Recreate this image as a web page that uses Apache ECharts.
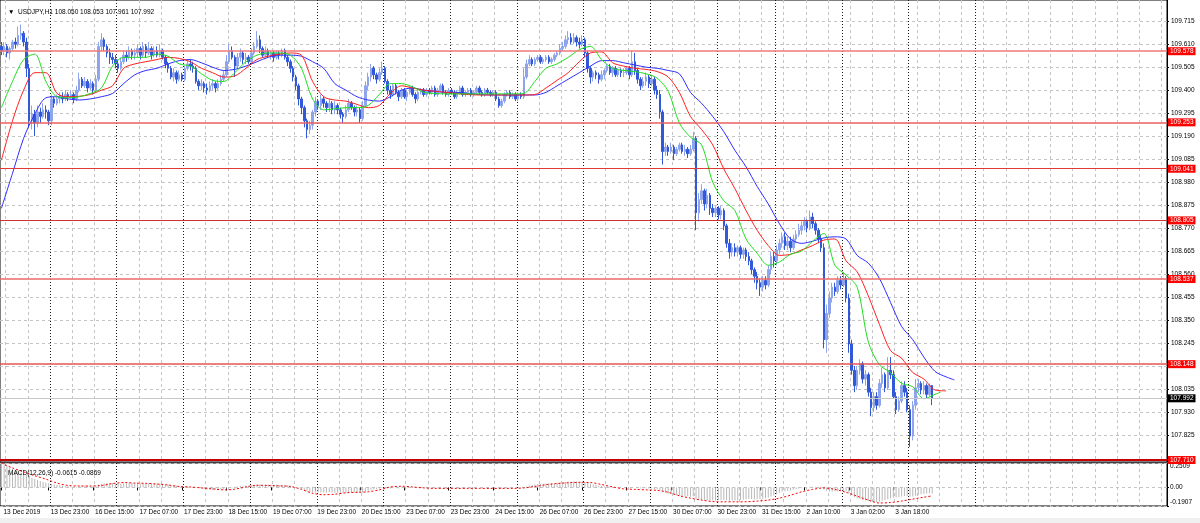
<!DOCTYPE html>
<html><head><meta charset="utf-8">
<script src="https://cdn.jsdelivr.net/npm/echarts@6/dist/echarts.min.js"></script>
<style>html,body{margin:0;padding:0;background:#f0f0f0;}#c{width:1200px;height:518px;background:#fff;}</style>
</head><body><div id="c"></div>
<script>
const symbol = 'USDJPY,H1';
const firstOpen = 109.60;
const closes = [
109.58,109.60,109.57,109.59,109.62,109.61,109.65,109.66,
109.62,109.50,109.26,109.29,109.25,109.30,109.28,109.31,
109.30,109.26,109.36,109.34,109.36,109.37,109.36,109.38,
109.37,109.38,109.36,109.40,109.45,109.42,109.44,109.41,
109.43,109.40,109.45,109.60,109.63,109.60,109.57,109.55,
109.54,109.52,109.50,109.53,109.56,109.55,109.58,109.56,
109.57,109.59,109.56,109.60,109.57,109.59,109.56,109.58,
109.56,109.58,109.55,109.52,109.50,109.46,109.48,109.45,
109.47,109.45,109.50,109.52,109.51,109.50,109.44,109.42,
109.43,109.41,109.40,109.42,109.43,109.41,109.43,109.45,
109.47,109.53,109.58,109.55,109.51,109.55,109.57,109.54,
109.55,109.53,109.57,109.60,109.63,109.59,109.56,109.58,
109.56,109.57,109.55,109.57,109.56,109.58,109.55,109.53,
109.50,109.46,109.42,109.36,109.32,109.26,109.22,109.24,
109.30,109.35,109.33,109.36,109.34,109.32,109.34,109.31,
109.33,109.31,109.29,109.28,109.31,109.34,109.32,109.30,
109.31,109.27,109.33,109.42,109.46,109.50,109.47,109.45,
109.48,109.50,109.44,109.40,109.38,109.42,109.39,109.37,
109.40,109.37,109.39,109.41,109.38,109.36,109.39,109.40,
109.38,109.40,109.39,109.41,109.38,109.40,109.42,109.39,
109.38,109.40,109.39,109.37,109.39,109.41,109.38,109.39,
109.40,109.38,109.39,109.41,109.39,109.38,109.40,109.39,
109.38,109.39,109.36,109.33,109.35,109.38,109.39,109.37,
109.38,109.36,109.38,109.37,109.46,109.52,109.54,109.52,
109.54,109.55,109.53,109.54,109.55,109.53,109.54,109.56,
109.57,109.59,109.60,109.63,109.64,109.62,109.64,109.62,
109.61,109.63,109.57,109.50,109.46,109.48,109.47,109.45,
109.47,109.49,109.51,109.48,109.50,109.47,109.49,109.48,
109.48,109.50,109.47,109.53,109.49,109.45,109.42,109.44,
109.46,109.43,109.45,109.40,109.38,109.30,109.12,109.14,
109.12,109.14,109.11,109.13,109.15,109.12,109.13,109.11,
109.13,109.18,108.84,108.90,108.94,108.88,108.92,108.86,
108.84,108.86,108.83,108.85,108.78,108.70,108.66,108.68,
108.66,108.68,108.65,108.67,108.64,108.62,108.58,108.55,
108.52,108.50,108.53,108.51,108.58,108.64,108.62,108.67,
108.70,108.73,108.69,108.71,108.68,108.72,108.74,108.76,
108.78,108.80,108.77,108.82,108.79,108.76,108.72,108.68,
108.26,108.38,108.45,108.50,108.48,108.53,108.51,108.54,
108.45,108.24,108.12,108.05,108.12,108.15,108.08,108.10,
108.02,107.95,108.00,107.96,108.06,108.10,108.04,108.12,
108.10,108.00,107.94,107.98,108.05,108.02,107.94,107.82,
107.96,108.04,108.06,108.03,108.05,108.01,108.05,107.992];
const highs = [
109.62,109.62,109.61,109.60,109.63,109.64,109.69,109.70,
109.67,109.64,109.52,109.33,109.31,109.33,109.32,109.34,
109.33,109.31,109.38,109.37,109.38,109.39,109.39,109.40,
109.39,109.40,109.39,109.42,109.48,109.46,109.46,109.45,
109.45,109.44,109.47,109.62,109.66,109.64,109.61,109.59,
109.57,109.56,109.54,109.55,109.58,109.58,109.60,109.59,
109.59,109.61,109.60,109.62,109.61,109.62,109.60,109.60,
109.60,109.61,109.59,109.56,109.53,109.51,109.50,109.49,
109.49,109.48,109.51,109.54,109.54,109.53,109.51,109.45,
109.45,109.44,109.43,109.44,109.45,109.44,109.45,109.47,
109.49,109.56,109.61,109.60,109.56,109.57,109.59,109.58,
109.57,109.56,109.59,109.62,109.67,109.65,109.60,109.60,
109.59,109.58,109.58,109.58,109.58,109.59,109.59,109.56,
109.54,109.51,109.47,109.43,109.37,109.33,109.27,109.26,
109.31,109.37,109.36,109.38,109.37,109.35,109.36,109.35,
109.35,109.34,109.32,109.30,109.33,109.36,109.35,109.33,
109.33,109.32,109.35,109.44,109.48,109.52,109.51,109.48,
109.50,109.53,109.51,109.45,109.42,109.43,109.43,109.40,
109.41,109.41,109.40,109.42,109.42,109.39,109.40,109.41,
109.41,109.41,109.41,109.42,109.42,109.41,109.43,109.43,
109.40,109.41,109.41,109.40,109.40,109.42,109.42,109.40,
109.41,109.41,109.40,109.42,109.42,109.40,109.41,109.41,
109.40,109.40,109.40,109.37,109.36,109.39,109.40,109.40,
109.39,109.39,109.39,109.39,109.50,109.54,109.56,109.55,
109.55,109.56,109.56,109.55,109.56,109.56,109.55,109.57,
109.58,109.61,109.62,109.65,109.67,109.66,109.66,109.65,
109.64,109.65,109.64,109.58,109.51,109.49,109.49,109.48,
109.49,109.50,109.52,109.52,109.51,109.51,109.50,109.50,
109.50,109.51,109.51,109.58,109.57,109.50,109.46,109.46,
109.48,109.47,109.47,109.46,109.42,109.40,109.31,109.16,
109.15,109.16,109.15,109.14,109.16,109.16,109.15,109.14,
109.15,109.21,109.19,108.93,108.97,108.95,108.95,108.93,
108.88,108.87,108.87,108.87,108.86,108.79,108.72,108.70,
108.70,108.69,108.69,108.68,108.68,108.66,108.63,108.59,
108.57,108.54,108.55,108.55,108.60,108.66,108.66,108.69,
108.72,108.75,108.75,108.73,108.73,108.74,108.76,108.79,
108.80,108.82,108.81,108.85,108.84,108.80,108.77,108.74,
108.70,108.42,108.48,108.52,108.52,108.55,108.55,108.57,
108.55,108.47,108.26,108.14,108.14,108.17,108.16,108.12,
108.11,108.04,108.02,108.02,108.08,108.13,108.11,108.18,
108.18,108.12,108.02,108.00,108.07,108.07,108.04,107.96,
107.98,108.08,108.08,108.07,108.07,108.06,108.06,108.053];
const lows = [
109.56,109.56,109.55,109.54,109.58,109.59,109.60,109.63,
109.60,109.46,109.23,109.22,109.19,109.23,109.25,109.27,
109.27,109.24,109.24,109.32,109.33,109.34,109.34,109.35,
109.35,109.36,109.34,109.35,109.39,109.41,109.41,109.39,
109.40,109.38,109.39,109.44,109.58,109.58,109.55,109.52,
109.52,109.50,109.48,109.49,109.52,109.53,109.54,109.54,
109.54,109.55,109.54,109.55,109.55,109.56,109.54,109.55,
109.55,109.55,109.54,109.50,109.48,109.45,109.44,109.43,
109.44,109.44,109.44,109.49,109.49,109.48,109.43,109.40,
109.40,109.39,109.38,109.39,109.40,109.39,109.40,109.42,
109.44,109.46,109.52,109.54,109.46,109.50,109.53,109.52,
109.52,109.52,109.52,109.56,109.59,109.57,109.55,109.55,
109.55,109.54,109.53,109.54,109.54,109.55,109.54,109.51,
109.48,109.44,109.40,109.33,109.29,109.23,109.18,109.20,
109.22,109.28,109.31,109.31,109.32,109.30,109.30,109.29,
109.29,109.29,109.27,109.25,109.27,109.30,109.31,109.28,
109.28,109.25,109.26,109.32,109.40,109.44,109.45,109.43,
109.44,109.47,109.43,109.38,109.36,109.37,109.38,109.35,
109.36,109.36,109.35,109.38,109.37,109.34,109.35,109.38,
109.37,109.37,109.38,109.38,109.37,109.37,109.39,109.38,
109.37,109.37,109.38,109.36,109.36,109.38,109.37,109.37,
109.38,109.37,109.37,109.38,109.38,109.37,109.37,109.38,
109.37,109.37,109.35,109.32,109.32,109.34,109.37,109.36,
109.36,109.35,109.35,109.36,109.36,109.45,109.51,109.51,
109.51,109.53,109.52,109.52,109.53,109.52,109.52,109.53,
109.55,109.56,109.58,109.59,109.61,109.61,109.61,109.60,
109.59,109.60,109.55,109.48,109.43,109.44,109.45,109.43,
109.44,109.45,109.48,109.47,109.46,109.46,109.46,109.46,
109.46,109.47,109.45,109.46,109.47,109.43,109.40,109.41,
109.42,109.41,109.42,109.38,109.36,109.27,109.06,109.10,
109.10,109.11,109.08,109.10,109.12,109.11,109.10,109.09,
109.10,109.12,108.76,108.80,108.88,108.85,108.86,108.83,
108.82,108.82,108.81,108.81,108.76,108.68,108.63,108.64,
108.64,108.64,108.63,108.63,108.62,108.60,108.56,108.52,
108.49,108.46,108.48,108.49,108.50,108.56,108.59,108.60,
108.65,108.68,108.67,108.67,108.66,108.67,108.70,108.73,
108.74,108.76,108.75,108.76,108.77,108.74,108.70,108.66,
108.22,108.20,108.36,108.43,108.46,108.47,108.49,108.50,
108.43,108.20,108.10,108.02,108.03,108.10,108.06,108.05,
108.00,107.91,107.93,107.94,107.95,108.04,108.02,108.03,
108.08,107.99,107.92,107.93,107.97,108.00,107.93,107.77,
107.80,107.94,108.02,108.01,108.01,107.99,108.00,107.961];

// Alligator lines read every 4 bars, plus the shifted end point
const maStep = 4;
const jaw = [108.86,109.02,109.18,109.29,109.365,109.37,109.36,109.355,109.36,109.37,109.385,109.43,109.47,109.49,109.50,109.52,109.535,109.54,109.525,109.505,109.49,109.495,109.51,109.53,109.55,109.56,109.56,109.555,109.53,109.50,109.43,109.40,109.37,109.355,109.35,109.37,109.40,109.41,109.40,109.395,109.39,109.39,109.385,109.38,109.378,109.378,109.378,109.378,109.378,109.39,109.42,109.45,109.48,109.51,109.535,109.535,109.525,109.515,109.505,109.50,109.49,109.475,109.39,109.34,109.28,109.21,109.125,109.05,108.96,108.88,108.79,108.72,108.70,108.71,108.725,108.73,108.72,108.645,108.61,108.54,108.43,108.32,108.26,108.18,108.115,108.09];
const teeth = [109.08,109.26,109.40,109.48,109.48,109.385,109.37,109.372,109.38,109.40,109.42,109.50,109.52,109.53,109.54,109.55,109.545,109.53,109.50,109.48,109.46,109.465,109.50,109.54,109.555,109.565,109.57,109.56,109.44,109.37,109.355,109.35,109.335,109.32,109.33,109.385,109.42,109.41,109.40,109.395,109.39,109.385,109.38,109.378,109.378,109.378,109.378,109.378,109.38,109.41,109.445,109.48,109.53,109.57,109.575,109.525,109.51,109.50,109.495,109.485,109.46,109.39,109.28,109.22,109.15,109.04,108.95,108.85,108.76,108.69,108.645,108.65,108.67,108.69,108.715,108.72,108.62,108.57,108.46,108.33,108.21,108.175,108.11,108.08,108.03];
const lips = [109.32,109.44,109.54,109.565,109.44,109.37,109.365,109.37,109.385,109.41,109.51,109.55,109.55,109.55,109.565,109.555,109.52,109.51,109.475,109.445,109.44,109.48,109.53,109.56,109.57,109.57,109.56,109.50,109.36,109.31,109.315,109.32,109.32,109.33,109.38,109.43,109.43,109.415,109.39,109.385,109.383,109.383,109.383,109.383,109.383,109.383,109.383,109.385,109.44,109.50,109.52,109.55,109.585,109.60,109.54,109.50,109.49,109.485,109.475,109.455,109.395,109.25,109.185,109.15,108.98,108.895,108.85,108.72,108.655,108.60,108.615,108.65,108.665,108.71,108.745,108.60,108.555,108.50,108.25,108.145,108.11,108.06,108.045,107.99,108.01];
const jawShift = 8, teethShift = 5, lipsShift = 3;
const jawEnd = 108.076, teethEnd = 108.026, lipsEnd = 108.02;

const macdHist = [
0.2509,0.235,0.22,0.205,0.19,0.178,0.165,0.152,
0.14,0.128,0.115,0.1,0.088,0.077,0.066,0.058,
0.05,0.042,0.035,0.03,0.026,0.022,0.019,0.016,
0.012,0.01,0.008,0.008,0.012,0.012,0.016,0.016,
0.016,0.016,0.02,0.029,0.037,0.041,0.045,0.045,
0.045,0.041,0.041,0.041,0.041,0.041,0.045,0.045,
0.045,0.045,0.041,0.045,0.041,0.041,0.041,0.041,
0.04,0.04,0.037,0.033,0.029,0.025,0.021,0.016,
0.012,0.008,0.006,0.006,0.005,0.003,-0.002,-0.006,
-0.01,-0.015,-0.02,-0.022,-0.024,-0.025,-0.025,-0.022,
-0.018,-0.01,0.0,0.005,0.006,0.01,0.014,0.016,
0.02,0.02,0.023,0.025,0.029,0.029,0.029,0.029,
0.029,0.029,0.027,0.027,0.026,0.026,0.025,0.023,
0.018,0.012,0.004,-0.007,-0.016,-0.029,-0.041,-0.048,
-0.051,-0.052,-0.053,-0.053,-0.053,-0.053,-0.053,-0.053,
-0.054,-0.055,-0.056,-0.056,-0.055,-0.053,-0.053,-0.053,
-0.053,-0.054,-0.051,-0.043,-0.035,-0.025,-0.02,-0.016,
-0.012,-0.007,-0.007,-0.008,-0.01,-0.008,-0.009,-0.01,
-0.008,-0.009,-0.008,-0.007,-0.007,-0.007,-0.007,-0.006,
-0.006,-0.005,-0.005,-0.004,-0.004,-0.003,-0.002,-0.002,
-0.002,-0.002,-0.002,-0.002,-0.002,-0.002,-0.002,-0.002,
-0.002,-0.002,-0.002,-0.001,-0.001,-0.001,-0.001,-0.001,
-0.001,-0.002,-0.002,-0.005,-0.006,-0.005,-0.004,-0.004,
-0.004,-0.004,-0.004,-0.004,0.002,0.01,0.018,0.025,
0.03,0.034,0.036,0.039,0.041,0.042,0.043,0.044,
0.047,0.049,0.052,0.055,0.058,0.059,0.061,0.061,
0.06,0.06,0.056,0.048,0.038,0.031,0.025,0.018,
0.014,0.011,0.009,0.007,0.005,0.002,0.002,0.0,
-0.001,-0.001,-0.002,0.001,0.0,-0.003,-0.008,-0.011,
-0.011,-0.012,-0.012,-0.016,-0.019,-0.026,-0.043,-0.054,
-0.064,-0.071,-0.077,-0.081,-0.084,-0.086,-0.088,-0.09,
-0.095,-0.092,-0.115,-0.125,-0.128,-0.132,-0.132,-0.134,
-0.135,-0.133,-0.131,-0.128,-0.128,-0.132,-0.136,-0.135,
-0.134,-0.131,-0.128,-0.125,-0.122,-0.12,-0.12,-0.121,
-0.121,-0.12,-0.116,-0.112,-0.104,-0.092,-0.082,-0.07,
-0.054,-0.045,-0.04,-0.033,-0.029,-0.023,-0.016,-0.01,
-0.005,0.0,0.002,0.007,0.008,0.008,0.006,0.002,
-0.025,-0.037,-0.041,-0.041,-0.041,-0.038,-0.036,-0.033,
-0.035,-0.055,-0.078,-0.1,-0.112,-0.12,-0.13,-0.135,
-0.142,-0.148,-0.15,-0.152,-0.145,-0.135,-0.128,-0.118,
-0.11,-0.105,-0.104,-0.1,-0.092,-0.087,-0.087,-0.093,
-0.092,-0.085,-0.077,-0.071,-0.066,-0.063,-0.061,-0.0615];
const macdSignal = [0.25,0.2,0.16,0.12,0.085,0.045,0.02,0.015,0.015,0.02,0.04,0.05,0.045,0.042,0.035,0.025,0.01,0.005,-0.005,-0.015,-0.025,-0.018,0.005,0.022,0.02,0.016,0.01,-0.02,-0.06,-0.075,-0.07,-0.055,-0.05,-0.045,-0.025,0.005,0.012,0.005,-0.005,-0.01,-0.01,-0.01,-0.01,-0.01,-0.01,-0.01,-0.01,-0.005,0.01,0.028,0.04,0.048,0.052,0.05,0.03,0.005,-0.015,-0.02,-0.025,-0.03,-0.05,-0.085,-0.11,-0.13,-0.145,-0.148,-0.148,-0.147,-0.14,-0.13,-0.11,-0.08,-0.045,-0.02,-0.005,-0.02,-0.05,-0.09,-0.13,-0.16,-0.155,-0.14,-0.12,-0.1];
const macdSignalEnd = -0.0869;

const tickBars = [0,17,33,49,65,81,97,113,129,145,161,177,193,209,225,241,257,273,289,305,321];
const tickLabels = ['13 Dec 2019','13 Dec 23:00','16 Dec 15:00','17 Dec 07:00','17 Dec 23:00','18 Dec 15:00','19 Dec 07:00','19 Dec 23:00','20 Dec 15:00','23 Dec 07:00','23 Dec 23:00','24 Dec 15:00','26 Dec 07:00','26 Dec 23:00','27 Dec 15:00','30 Dec 07:00','30 Dec 23:00','31 Dec 15:00','2 Jan 10:00','3 Jan 02:00','3 Jan 18:00'];
const daySeparators = [18,42,66,90,114,138,162,186,210,234,258,279,303,327,351];
const slotCount = 420;
const gridEvery = 8, gridPhase = 2;
const priceTicks = [107.825,107.930,108.035,108.140,108.245,108.350,108.455,108.560,108.665,108.770,108.875,108.980,109.085,109.190,109.295,109.400,109.505,109.610,109.715];
const levels = [109.578,109.253,109.041,108.805,108.537,108.148,107.710];
const macdTicks = [-0.1907, 0, 0.2509];

// styles
const levelColors = ['#f07878','#ea6060','#dd3a3a','#cc3333','#ec6868','#e45555','#c40000'];
const levelWidths = [1.5,1.5,1,1,1.5,1.5,2];
const FONT = 'Liberation Sans';
const FS = 6.5;

const N = closes.length, lastBar = N - 1;
const opens = closes.map((c, i) => i === 0 ? firstOpen : closes[i - 1]);
const candleData = closes.map((c, i) => [opens[i], c, lows[i], highs[i]]);
const categories = Array.from({length: slotCount}, (_, i) => { const k = tickBars.indexOf(i); return k >= 0 ? tickLabels[k] : ''; });
function sampled(vals, step, endIdx, endVal) {
  const arr = new Array(endIdx + 1).fill(null);
  vals.forEach((v, k) => { arr[k * step] = v; });
  arr[endIdx] = endVal;
  return arr;
}
const labelSet = new Set(tickBars);
const sepSet = new Set(daySeparators);
const gridInterval = (i) => i % gridEvery === gridPhase && !sepSet.has(i);
const sepInterval = (i) => sepSet.has(i);
const gridLine = {color: '#c4c4c4', type: [3, 3], width: 1};
const sepLine = {color: '#1a1a1a', type: [1, 2], width: 1};
const hiddenX = (g, iv, ls, pos) => ({gridIndex: g, type: 'category', data: categories, position: pos, boundaryGap: true,
  axisLine: {show: false}, axisTick: {show: false}, axisLabel: {show: false},
  splitLine: {show: true, interval: iv, lineStyle: ls}});

const lastO = opens[lastBar], lastH = highs[lastBar], lastL = lows[lastBar], lastC = closes[lastBar];
const lvlLabel = (bg, v) => ({show: true, position: 'end', distance: 1, backgroundColor: bg, color: '#fff',
  padding: [1, 2, 0, 2], fontSize: FS, lineHeight: 7, fontFamily: FONT, formatter: () => v.toFixed(3)});

const option = {
  animation: false,
  backgroundColor: '#fff',
  textStyle: {fontFamily: FONT},
  title: [
    {text: '▼  ' + symbol + ' ' + [lastO, lastH, lastL, lastC].map(v => v.toFixed(3)).join(' '), left: 3, top: 4,
     textStyle: {fontSize: FS, fontWeight: 'normal', color: '#000', fontFamily: FONT}},
    {text: 'MACD(12,26,9) ' + macdHist[lastBar].toFixed(4) + ' ' + macdSignalEnd.toFixed(4), left: 3, top: 464.5,
     textStyle: {fontSize: FS, fontWeight: 'normal', color: '#000', fontFamily: FONT}}
  ],
  grid: [
    {left: 0, width: 1167, top: 0, height: 462, show: true, borderColor: '#000', borderWidth: 1},
    {left: 0, width: 1167, top: 463, height: 43, show: true, borderColor: '#000', borderWidth: 1}
  ],
  xAxis: [
    hiddenX(0, gridInterval, gridLine, 'bottom'),
    hiddenX(0, sepInterval, sepLine, 'top'),
    {gridIndex: 1, type: 'category', data: categories, position: 'bottom', boundaryGap: true,
     axisLine: {show: false},
     axisTick: {show: true, alignWithLabel: true, interval: (i) => labelSet.has(i), length: 3, lineStyle: {color: '#000'}},
     axisLabel: {show: true, interval: (i) => labelSet.has(i), align: 'left', margin: 3, padding: [0, 0, 0, 2],
       fontSize: FS, color: '#000', fontFamily: FONT},
     splitLine: {show: true, interval: gridInterval, lineStyle: gridLine}},
    hiddenX(1, sepInterval, sepLine, 'top')
  ],
  yAxis: [
    {gridIndex: 0, type: 'value', position: 'right', min: 107.701, max: 109.812,
     axisLine: {show: true, lineStyle: {color: '#000'}},
     axisTick: {show: true, length: 2, customValues: priceTicks, lineStyle: {color: '#000'}},
     axisLabel: {customValues: priceTicks, formatter: (v) => v.toFixed(3), fontSize: FS, color: '#000', margin: 4, fontFamily: FONT},
     splitLine: {show: true, lineStyle: gridLine}},
    {gridIndex: 1, type: 'value', position: 'right', min: -0.1907, max: 0.2509,
     axisLine: {show: true, lineStyle: {color: '#000'}},
     axisTick: {show: true, length: 2, customValues: macdTicks, lineStyle: {color: '#000'}},
     axisLabel: {customValues: macdTicks, formatter: (v) => v === 0 ? '0.00' : v.toFixed(4), fontSize: FS, color: '#000',
       margin: 3, fontFamily: FONT, verticalAlignMinLabel: 'bottom', verticalAlignMaxLabel: 'top'},
     splitLine: {show: true, lineStyle: gridLine}}
  ],
  series: [
    {type: 'candlestick', xAxisIndex: 0, yAxisIndex: 0, data: candleData, barWidth: 2, clip: false,
     itemStyle: {color: '#8ea4ec', color0: '#3058d8', borderColor: '#8ea4ec', borderColor0: '#3058d8', borderWidth: 1},
     markLine: {symbol: ['none', 'none'], silent: true, animation: false, precision: 3,
       data: levels.map((v, i) => ({yAxis: v, lineStyle: {color: levelColors[i], width: levelWidths[i], type: 'solid'}, label: lvlLabel('#ff0000', v)}))
         .concat([{yAxis: lastC, lineStyle: {color: '#c8c8c8', width: 1, type: 'solid'}, label: lvlLabel('#000', lastC)}])}},
    {type: 'line', xAxisIndex: 0, yAxisIndex: 0, data: sampled(jaw, maStep, lastBar + jawShift, jawEnd), connectNulls: true,
     smooth: 0.3, showSymbol: false, lineStyle: {color: '#2e2eff', width: 1}},
    {type: 'line', xAxisIndex: 0, yAxisIndex: 0, data: sampled(teeth, maStep, lastBar + teethShift, teethEnd), connectNulls: true,
     smooth: 0.3, showSymbol: false, lineStyle: {color: '#ff2020', width: 1}},
    {type: 'line', xAxisIndex: 0, yAxisIndex: 0, data: sampled(lips, maStep, lastBar + lipsShift, lipsEnd), connectNulls: true,
     smooth: 0.3, showSymbol: false, lineStyle: {color: '#1ee01e', width: 1}},
    {type: 'bar', xAxisIndex: 2, yAxisIndex: 1, data: macdHist, barWidth: 1, itemStyle: {color: '#b8b8b8'}},
    {type: 'line', xAxisIndex: 2, yAxisIndex: 1, data: sampled(macdSignal, maStep, lastBar, macdSignalEnd), connectNulls: true,
     smooth: 0.3, showSymbol: false, lineStyle: {color: '#ff0000', width: 1, type: [2, 2]}}
  ]
};
const chart = echarts.init(document.getElementById('c'), null, {renderer: 'canvas'});
chart.setOption(option);
</script></body></html>
